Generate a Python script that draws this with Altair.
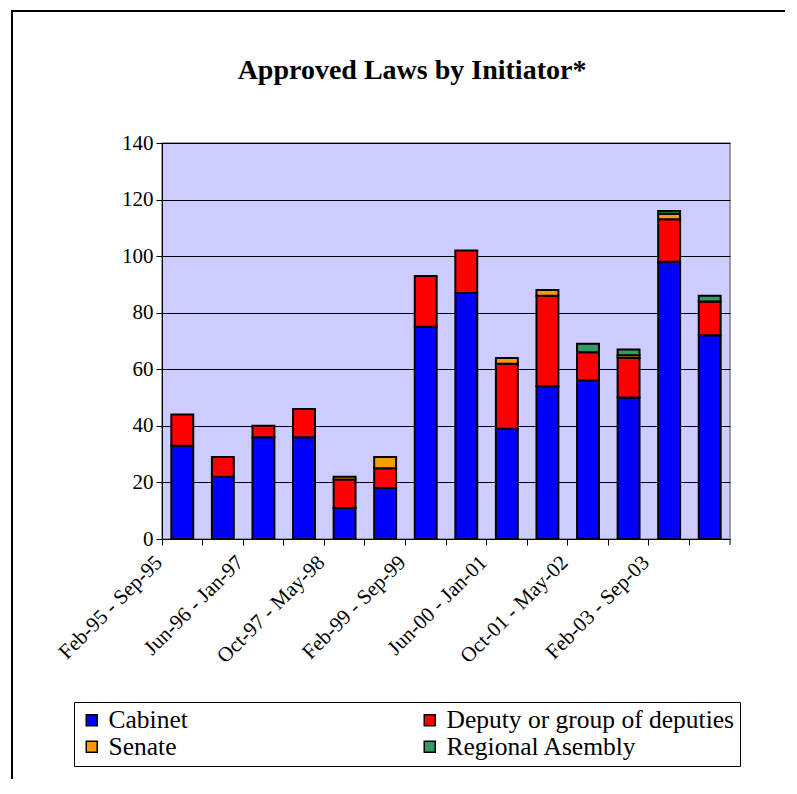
import json
import altair as alt
import pandas as pd

title_text = "Approved Laws by Initiator*"
categories = [
    "Feb-95 - Sep-95", "Oct-95 - May-96", "Jun-96 - Jan-97", "Feb-97 - Sep-97",
    "Oct-97 - May-98", "Jun-98 - Jan-99", "Feb-99 - Sep-99", "Oct-99 - May-00",
    "Jun-00 - Jan-01", "Feb-01 - Sep-01", "Oct-01 - May-02", "Jun-02 - Jan-03",
    "Feb-03 - Sep-03", "Oct-03 - May-04",
]
series = ["Cabinet", "Deputy or group of deputies", "Senate", "Regional Asembly"]
colors = ["#0000FF", "#FF0000", "#FF9900", "#339966"]
cabinet = [33, 22, 36, 36, 11, 18, 75, 87, 39, 54, 56, 50, 98, 72]
deputy = [11, 7, 4, 10, 10, 7, 18, 15, 23, 32, 10, 14, 15, 12]
senate = [0, 0, 0, 0, 1, 4, 0, 0, 2, 2, 0, 1, 2, 0]
regional = [0, 0, 0, 0, 0, 0, 0, 0, 0, 0, 3, 2, 1, 2]
shown_labels = categories[::2]

rows = []
for s_i, (name, vals) in enumerate(zip(series, [cabinet, deputy, senate, regional])):
    for c, v in zip(categories, vals):
        if v > 0:
            rows.append({"period": c, "initiator": name, "laws": v, "order": s_i})
df = pd.DataFrame(rows)

# legend is laid out column by column: order so rows read Cabinet | Deputy, Senate | Regional
legend_order = [0, 2, 1, 3]
legend_domain = [series[i] for i in legend_order]
legend_range = [colors[i] for i in legend_order]

W, H = 568, 396
FONT = "'Times New Roman', 'Liberation Serif', Times, serif"

label_expr = "indexof(" + json.dumps(shown_labels) + ", datum.value) >= 0 ? datum.label : ''"

bars = alt.Chart(df).mark_bar(
    width={"band": 0.54}, stroke="black", strokeWidth=2
).encode(
    x=alt.X("period:N", sort=categories,
            scale=alt.Scale(paddingInner=0, paddingOuter=0),
            axis=alt.Axis(bandPosition=0, labelAngle=-45, labelExpr=label_expr,
                          labelAlign="right", labelBaseline="middle",
                          labelOffset=-23,
                          title=None, grid=False, tickSize=6, tickColor="black",
                          domainColor="black", labelFont=FONT, labelFontSize=21,
                          labelColor="black", labelPadding=14, labelOverlap=False)),
    y=alt.Y("laws:Q", stack="zero",
            scale=alt.Scale(domain=[0, 140], nice=False),
            axis=alt.Axis(values=list(range(0, 141, 20)), title=None, grid=True,
                          gridColor="black", gridWidth=1, tickSize=6, tickColor="black",
                          domainColor="black", labelFont=FONT, labelFontSize=21,
                          labelColor="black", labelPadding=3)),
    color=alt.Color("initiator:N",
                    scale=alt.Scale(domain=legend_domain, range=legend_range),
                    legend=alt.Legend(orient="none", legendX=-88, legendY=559,
                                      columns=2, title=None, labelFont=FONT,
                                      labelFontSize=25.5, labelColor="black",
                                      labelLimit=500, symbolType="square",
                                      symbolSize=121, symbolStrokeColor="black",
                                      symbolStrokeWidth=1.5, strokeColor="black",
                                      fillColor="white", padding=5,
                                      columnPadding=229, rowPadding=-1,
                                      labelOffset=4)),
    order=alt.Order("order:Q", sort="ascending"),
)

deco = alt.Chart(alt.Data(values=[{"t": title_text}]))

frame = deco.mark_rect(
    fill=None, stroke="black", strokeWidth=2, clip=False
).encode(
    x=alt.value(-150), y=alt.value(-132), x2=alt.value(W + 200), y2=alt.value(H + 400)
)

end_tick = deco.mark_rule(color="black", strokeWidth=1, clip=False).encode(
    x=alt.value(W), y=alt.value(H), y2=alt.value(H + 6)
)

title = deco.mark_text(
    font=FONT, fontSize=28, fontWeight="bold", color="black",
    align="center", baseline="alphabetic", clip=False
).encode(
    text="t:N", x=alt.value(250), y=alt.value(-64)
)

chart = alt.layer(frame, title, end_tick, bars).properties(
    width=W, height=H,
    autosize=alt.AutoSizeParams(type="none"),
    padding={"left": 154, "top": 135, "right": 55, "bottom": 240},
    background="white",
).configure_view(stroke="#808080", strokeWidth=1.5, fill="#CCCCFF")

chart.save("out.html", embed_options={"renderer": "svg", "actions": False})
